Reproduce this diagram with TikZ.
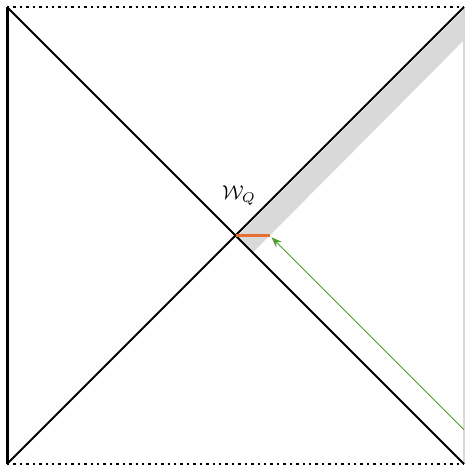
\documentclass[tikz,border=0pt]{standalone}
\usepackage{amsmath,amssymb}
\usepackage{tikz}
\usetikzlibrary{arrows.meta,positioning,calc}
\usepackage{xcolor}
\definecolor{wedgeorange}{RGB}{232,112,50}
\definecolor{raygreen}{RGB}{80,160,45}

\begin{document}
\begin{tikzpicture}[
  >=Stealth,
  every node/.style={font=\normalsize},
  horizon/.style={draw, line width=1pt},
  infinity/.style={draw, dotted, line width=1.2pt},
  band/.style={fill=gray!30, draw=none},
  ray/.style={->, raygreen, line width=0.5pt}
]
\useasboundingbox (-0.123,-0.07) rectangle (8.035,8.123);
%% corners of the diagram
\coordinate (bl) at (0,0);
\coordinate (br) at (8,0);
\coordinate (tl) at (0,8);
\coordinate (tr) at (8,8);
\coordinate (bif) at (4,4);
%% shaded strip along the future horizon
\fill[band] (4.02,3.98) -- (7.98,7.94) -- (7.98,7.4) -- (4.3,3.7) -- cycle;
%% boundaries
\draw[line width=1.5pt] (bl) -- (tl);
\draw[gray!30, line width=0.6pt] (br) -- (tr);
\draw[infinity] (tl) -- (tr);
\draw[infinity] (bl) -- (br);
%% horizons
\draw[horizon] (bl) -- (tr);
\draw[horizon] (tl) -- (br);
%% wedge segment
\coordinate (wend) at (4.6,4);
\draw[wedgeorange, line width=1.8pt] (bif) -- (wend);
\node (wq) at (4.06,4.7) {$\mathcal{W}_Q$};
%% incoming signal
\coordinate (src) at (8,0.6);
\draw[ray] (src) -- ($(wend)+(0.03,-0.03)$);
\end{tikzpicture}
\end{document}
